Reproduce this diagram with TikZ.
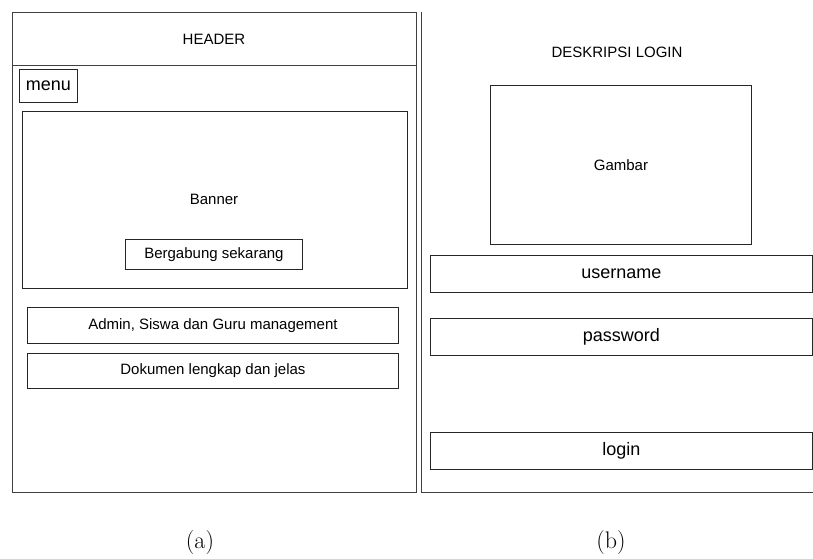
\documentclass[tikz,border=0pt]{standalone}
\usepackage{fontspec}
\newfontfamily\wirefont{Liberation Sans}

\tikzset{
  frame/.style={draw=black!75, line width=1pt},
  box/.style={draw=black!85, line width=0.9pt, inner sep=0pt, anchor=north west,
    font=\wirefont\fontsize{15}{18}\selectfont},
  field/.style={box, font=\wirefont\fontsize{18}{21}\selectfont},
  caption/.style={font=\fontsize{24}{28}\selectfont},
}

\begin{document}
\begin{tikzpicture}[x=1pt, y=-1pt]
\useasboundingbox (0,0) rectangle (813,558);

% left page: home
\draw[frame] (12,12) rectangle (416,492);
\draw[frame] (12,65) -- (416,65);
\node[font=\wirefont\fontsize{15}{18}\selectfont] (header) at (214,39) {HEADER};
\node[box, font=\wirefont\fontsize{18}{21}\selectfont, minimum width=58pt, minimum height=33pt] (menu) at (19,69) {menu};

\node[box, minimum width=385pt, minimum height=177pt] (banner) at (22,111) {};
\node[font=\wirefont\fontsize{15}{18}\selectfont] (bannertxt) at (214,199) {Banner};
\node[box, minimum width=177pt, minimum height=30pt] (join) at (125,239) {Bergabung sekarang};

\node[box, minimum width=371pt, minimum height=36pt] (users) at (27,307) {Admin, Siswa dan Guru management};
\node[box, minimum width=371pt, minimum height=35pt] (docs) at (27,353) {Dokumen lengkap dan jelas};

% right page: login
\draw[frame] (421,12) -- (421,492) -- (813,492);
\node[font=\wirefont\fontsize{15}{18}\selectfont] (desc) at (617,52) {DESKRIPSI LOGIN};
\node[box, minimum width=261pt, minimum height=159pt] (image) at (490,85) {Gambar};

\node[field, minimum width=382pt, minimum height=37pt] (user) at (430,255) {username};
\node[field, minimum width=382pt, minimum height=37pt] (pass) at (430,318) {password};
\node[field, minimum width=382pt, minimum height=37pt] (login) at (430,432) {login};

% captions
\node[caption] (capa) at (200,542) {(a)};
\node[caption] (capb) at (611,542) {(b)};
\end{tikzpicture}
\end{document}
